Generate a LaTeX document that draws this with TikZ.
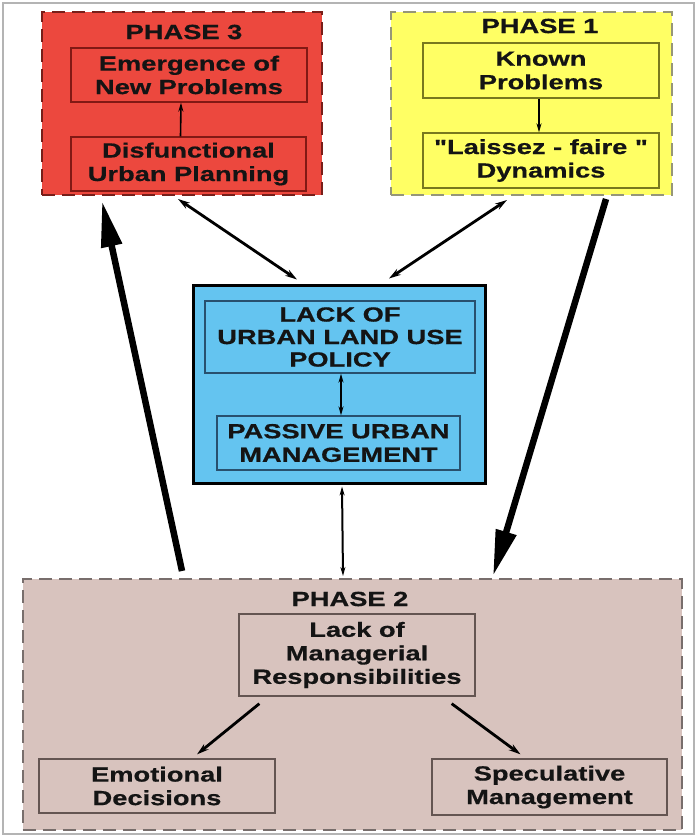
\documentclass[tikz,border=0pt]{standalone}
\usepackage{fontspec}
\newfontfamily\dfont{Liberation Sans}[FakeStretch=1.33,FakeBold=0.6]
\usetikzlibrary{arrows.meta,calc}
\definecolor{redfill}{RGB}{236,72,62}
\definecolor{reddash}{RGB}{120,30,25}
\definecolor{redline}{RGB}{130,25,20}
\definecolor{yelfill}{RGB}{255,255,100}
\definecolor{yeldash}{RGB}{150,150,120}
\definecolor{yelline}{RGB}{120,120,30}
\definecolor{bluefill}{RGB}{100,196,240}
\definecolor{blueline}{RGB}{40,80,110}
\definecolor{rosefill}{RGB}{216,195,190}
\definecolor{rosedash}{RGB}{120,110,108}
\definecolor{roseline}{RGB}{100,85,82}
\definecolor{framegray}{RGB}{180,180,180}
\tikzset{
  txt/.style={font=\dfont\bfseries\fontsize{20.5}{23.5}\selectfont, align=center, text=black!92},
  phasebox/.style={rectangle, draw, line width=2pt, dash pattern=on 13pt off 7pt, inner sep=0pt},
  innerbox/.style={rectangle, draw, line width=1.3pt, txt, inner sep=0pt},
  title/.style={txt, inner sep=0pt},
  smallarr/.style={line width=1.6pt, -{Stealth[length=9pt,width=5pt]}},
  smalldbl/.style={line width=1.6pt, {Stealth[length=9pt,width=5pt]}-{Stealth[length=9pt,width=5pt]}},
  meddbl/.style={line width=2.8pt, {Stealth[length=12pt,width=7pt]}-{Stealth[length=12pt,width=7pt]}},
  medarr/.style={line width=2.8pt, -{Stealth[length=12pt,width=7pt]}},
  bigarr/.style={line width=6.5pt, -{Triangle[length=46pt,width=20pt]}},
}
\begin{document}
\begin{tikzpicture}[x=1pt,y=-1pt]
\useasboundingbox (0,0) rectangle (698,840);
\fill[white] (0,0) rectangle (698,840);
\draw[framegray, line width=1.5pt] (3,3) rectangle (694,834);

% Phase 3 (red)
\node[phasebox, fill=redfill, draw=reddash, minimum width=280pt, minimum height=183pt] (red) at (182,103.5) {};
\node[title] (p3) at (184,32) {PHASE 3};
\node[innerbox, draw=redline, minimum width=236pt, minimum height=54pt] (emerg) at (189,75) {Emergence of\\New Problems};
\node[innerbox, draw=redline, minimum width=235pt, minimum height=54pt] (disf) at (188.5,164) {Disfunctional\\Urban Planning};
\draw[smallarr] ($(disf.north)+(-8,0)$) -- ($(emerg.south)+(-8,0)$);

% Phase 1 (yellow)
\node[phasebox, fill=yelfill, draw=yeldash, minimum width=281pt, minimum height=183pt] (yel) at (531.5,103.5) {};
\node[title] (p1) at (540,26) {PHASE 1};
\node[innerbox, draw=yelline, minimum width=236pt, minimum height=55pt] (known) at (541,70.5) {Known\\Problems};
\node[innerbox, draw=yelline, minimum width=236pt, minimum height=55pt] (laissez) at (541,160.5) {"Laissez - faire "\\Dynamics};
\draw[smallarr] ($(known.south)+(-2,0)$) -- ($(laissez.north)+(-2,0)$);

% Central (blue)
\node[rectangle, draw=black, line width=3pt, fill=bluefill, minimum width=292pt, minimum height=198pt] (blue) at (339,384) {};
\node[innerbox, draw=blueline, minimum width=270pt, minimum height=72pt, font=\dfont\bfseries\fontsize{20.5}{22.5}\selectfont] (lack) at (340,337) {LACK OF\\URBAN LAND USE\\POLICY};
\node[innerbox, draw=blueline, minimum width=243pt, minimum height=54pt] (passive) at (338.5,443) {PASSIVE URBAN\\MANAGEMENT};
\draw[smalldbl] ($(lack.south)+(1,0)$) -- ($(passive.north)+(2.5,0)$);

% Phase 2 (rose)
\node[phasebox, fill=rosefill, draw=rosedash, minimum width=659pt, minimum height=251pt] (ph2) at (352,704.5) {};
\node[title] (p2) at (350,599) {PHASE 2};
\node[innerbox, draw=roseline, minimum width=236pt, minimum height=82pt] (lackman) at (357,655) {Lack of\\Managerial\\Responsibilities};
\node[innerbox, draw=roseline, minimum width=236pt, minimum height=54pt] (emot) at (157,786) {Emotional\\Decisions};
\node[innerbox, draw=roseline, minimum width=235pt, minimum height=56pt] (spec) at (549.5,787) {Speculative\\Management};
\draw[medarr] ($(lackman.south west)+(21,7)$) -- ($(emot.north)+(40,-4)$);
\draw[medarr] ($(lackman.south east)+(-24,7)$) -- ($(spec.north)+(-29,-4)$);

% Connectors between phases
\draw[meddbl] ($(red.south)+(-4,3)$) -- ($(blue.north)+(-42,-4)$);
\draw[meddbl] ($(yel.south)+(-24.5,4)$) -- ($(blue.north)+(50,-5)$);
\draw[smalldbl, line width=2pt] ($(blue.south)+(3,2)$) -- ($(ph2.north)+(-9,-2)$);
\draw[bigarr] ($(ph2.north)+(-170,-7)$) -- ($(red.south)+(-80,5)$);
\draw[bigarr] ($(yel.south)+(74.5,3)$) -- ($(ph2.north)+(141,-2)$);
\end{tikzpicture}
\end{document}
